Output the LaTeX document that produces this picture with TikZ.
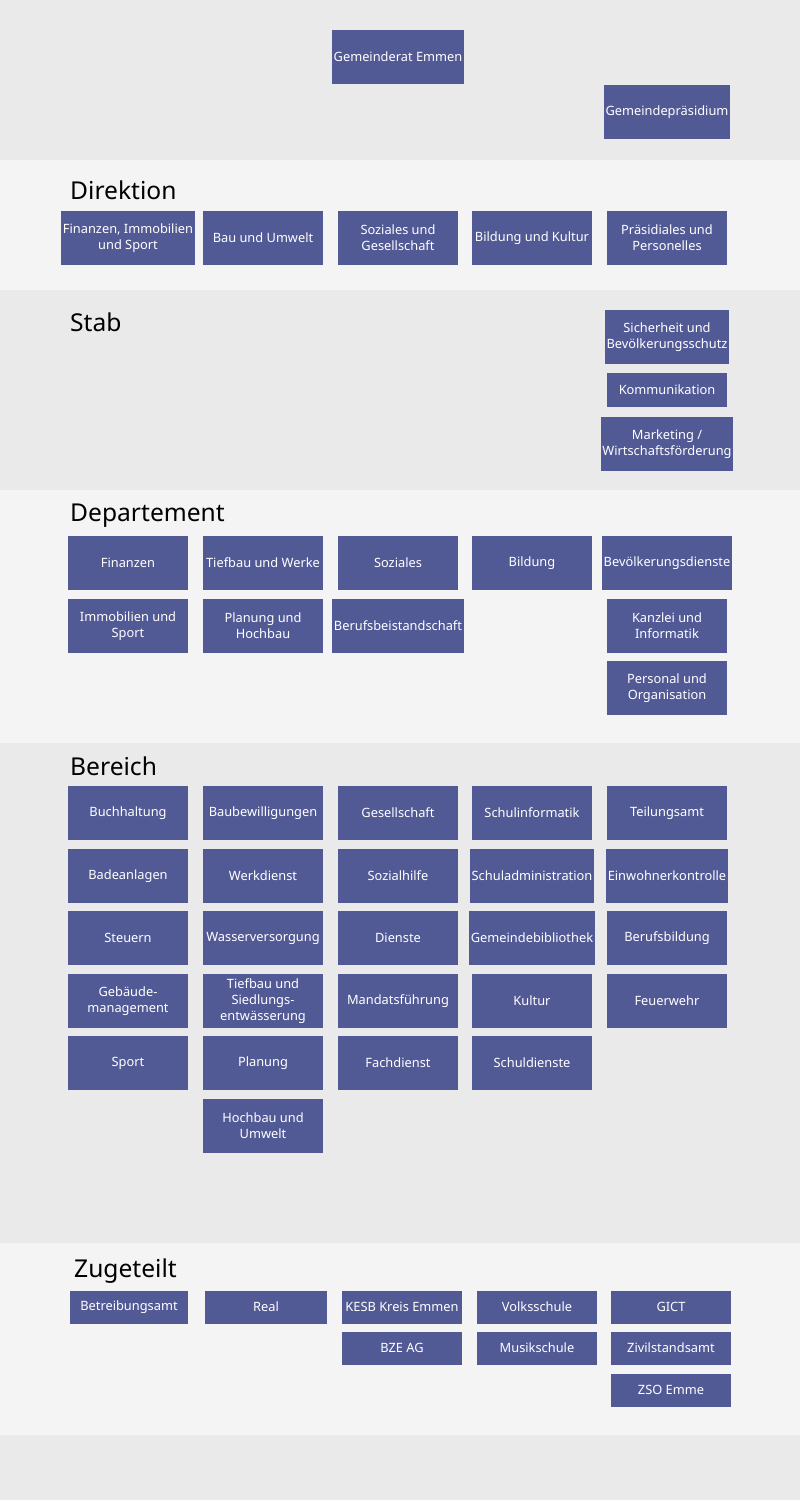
\documentclass[tikz,border=0pt]{standalone}
\usepackage{fontspec}
\setmainfont{Noto Sans}
\usepackage{xcolor}
\definecolor{bandgray}{HTML}{EAEAEA}
\definecolor{bandlight}{HTML}{F4F4F4}
\definecolor{unitblue}{HTML}{525A96}
\tikzset{
  unit/.style={fill=unitblue, text=white, font=\bfseries\fontsize{7.3}{9}\selectfont, align=center, minimum width=2.4cm, minimum height=1.08cm, inner sep=1pt},
  flat/.style={unit, minimum height=0.66cm},
  title/.style={anchor=west, font=\bfseries\fontsize{14}{16}\selectfont}
}
\begin{document}
\begin{tikzpicture}[x=0.02cm,y=-0.02cm]
\useasboundingbox (0,0) rectangle (800,1500);
\fill[bandgray] (0,0) rectangle (800,160);
\fill[bandlight] (0,160) rectangle (800,290);
\fill[bandgray] (0,290) rectangle (800,490);
\fill[bandlight] (0,490) rectangle (800,743);
\fill[bandgray] (0,743) rectangle (800,1243);
\fill[bandlight] (0,1243) rectangle (800,1435);
\fill[bandgray] (0,1435) rectangle (800,1500);
% top
\node[unit] (rat) at (398,57) {Gemeinderat Emmen};
\node[unit] (praes) at (667,112) {Gemeindepräsidium};
% Direktion
\node[title] (tdir) at (64,190) {Direktion};
\node[unit] (d1) at (128,238) {Finanzen, Immobilien\\und Sport};
\node[unit] (d2) at (263,238) {Bau und Umwelt};
\node[unit] (d3) at (398,238) {Soziales und\\Gesellschaft};
\node[unit] (d4) at (532,238) {Bildung und Kultur};
\node[unit] (d5) at (667,238) {Präsidiales und\\Personelles};
% Stab
\node[title] (tstab) at (64,322) {Stab};
\node[unit] (s1) at (667,337) {Sicherheit und\\Bevölkerungsschutz};
\node[unit, minimum height=0.7cm] (s2) at (667,390) {Kommunikation};
\node[unit] (s3) at (667,444) {Marketing /\\Wirtschaftsförderung};
% Departement
\node[title] (tdep) at (64,516) {Departement};
\node[unit] (p11) at (128,563) {Finanzen};
\node[unit] (p12) at (128,626) {Immobilien und\\Sport};
\node[unit] (p21) at (263,563) {Tiefbau und Werke};
\node[unit] (p22) at (263,626) {Planung und\\Hochbau};
\node[unit] (p31) at (398,563) {Soziales};
\node[unit] (p32) at (398,626) {Berufsbeistandschaft};
\node[unit] (p41) at (532,563) {Bildung};
\node[unit] (p51) at (667,563) {Bevölkerungsdienste};
\node[unit] (p52) at (667,626) {Kanzlei und\\Informatik};
\node[unit] (p53) at (667,688) {Personal und\\Organisation};
% Bereich
\node[title] (tber) at (64,766) {Bereich};
\node[unit] (b11) at (128,813) {Buchhaltung};
\node[unit] (b12) at (128,876) {Badeanlagen};
\node[unit] (b13) at (128,938) {Steuern};
\node[unit] (b14) at (128,1001) {Gebäude-\\management};
\node[unit] (b15) at (128,1063) {Sport};
\node[unit] (b21) at (263,813) {Baubewilligungen};
\node[unit] (b22) at (263,876) {Werkdienst};
\node[unit] (b23) at (263,938) {Wasserversorgung};
\node[unit] (b24) at (263,1001) {Tiefbau und\\Siedlungs-\\entwässerung};
\node[unit] (b25) at (263,1063) {Planung};
\node[unit] (b26) at (263,1126) {Hochbau und\\Umwelt};
\node[unit] (b31) at (398,813) {Gesellschaft};
\node[unit] (b32) at (398,876) {Sozialhilfe};
\node[unit] (b33) at (398,938) {Dienste};
\node[unit] (b34) at (398,1001) {Mandatsführung};
\node[unit] (b35) at (398,1063) {Fachdienst};
\node[unit] (b41) at (532,813) {Schulinformatik};
\node[unit] (b42) at (532,876) {Schuladministration};
\node[unit] (b43) at (532,938) {Gemeindebibliothek};
\node[unit] (b44) at (532,1001) {Kultur};
\node[unit] (b45) at (532,1063) {Schuldienste};
\node[unit] (b51) at (667,813) {Teilungsamt};
\node[unit] (b52) at (667,876) {Einwohnerkontrolle};
\node[unit] (b53) at (667,938) {Berufsbildung};
\node[unit] (b54) at (667,1001) {Feuerwehr};
% Zugeteilt
\node[title] (tzug) at (68,1271) {Zugeteilt};
\node[flat, minimum width=2.36cm] (z11) at (129,1307) {Betreibungsamt};
\node[flat, minimum width=2.44cm] (z21) at (266,1307) {Real};
\node[flat] (z31) at (402,1307) {KESB Kreis Emmen};
\node[flat] (z32) at (402,1348) {BZE AG};
\node[flat] (z41) at (537,1307) {Volksschule};
\node[flat] (z42) at (537,1348) {Musikschule};
\node[flat] (z51) at (671,1307) {GICT};
\node[flat] (z52) at (671,1348) {Zivilstandsamt};
\node[flat] (z53) at (671,1390) {ZSO Emme};
\end{tikzpicture}
\end{document}
